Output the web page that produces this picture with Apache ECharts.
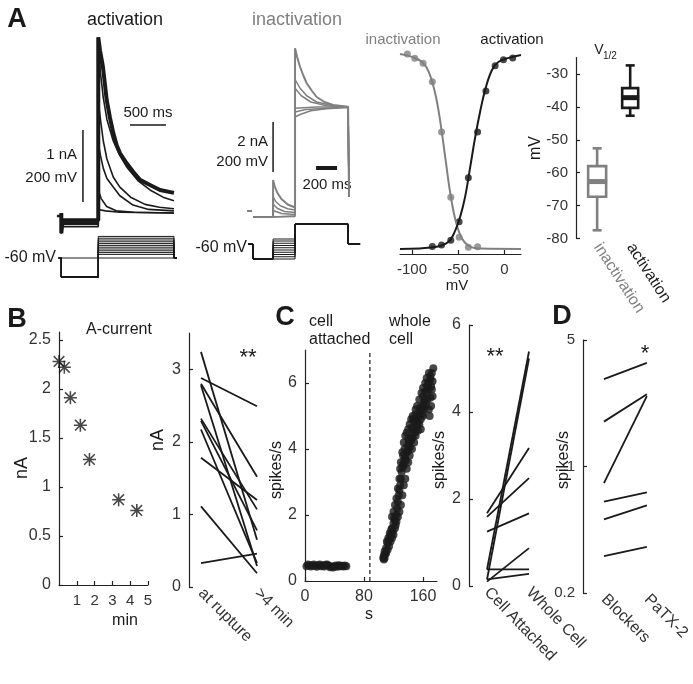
<!DOCTYPE html>
<html>
<head>
<meta charset="utf-8">
<script src="https://cdn.jsdelivr.net/npm/echarts@6/dist/echarts.min.js"></script>
<style>
html, body { margin: 0; padding: 0; background: #fff; }
#chart { width: 693px; height: 684px; }
</style>
</head>
<body>
<div id="chart"></div>
<script>
const FONT = '"Liberation Sans", Arial, sans-serif';
const BLACK = '#1a1a1a';
const GRAY = '#808080';
const LABEL = '#333';
const AX = '#222';

// ---- A, activation currents (time ms from step, current nA)
const actPreLevels = [-0.1, -0.13, -0.16, -0.19, -0.12, -0.15];
const actShapes = [
    [[0, 2.44], [24, 2.26], [65, 2.03], [117, 1.57], [163, 1.32], [209, 1.11], [256, 0.94], [302, 0.83], [395, 0.69], [487, 0.57], [580, 0.46], [719, 0.39], [858, 0.32], [1052, 0.28]],
    [[0, 2.4], [30, 1.95], [70, 1.6], [120, 1.3], [208, 1.0], [300, 0.8], [394, 0.64], [550, 0.45], [719, 0.32], [900, 0.22], [1052, 0.17]],
    [[0, 1.55], [30, 1.3], [70, 1.0], [120, 0.75], [208, 0.5], [300, 0.36], [450, 0.22], [650, 0.12], [850, 0.08], [1052, 0.06]],
    [[0, 0.97], [30, 0.8], [70, 0.62], [120, 0.48], [208, 0.36], [300, 0.24], [483, 0.11], [700, 0.05], [1052, 0.03]],
    [[0, 0.32], [40, 0.2], [117, 0.09], [250, 0.03], [500, 0.01], [1052, 0]],
    [[0, 0.05], [100, 0.03], [300, 0.01], [1052, 0]]
];
const actScaleV = [[-213, 0.153], [-213, 1.153]];
const actScaleH = [[441, 1.222], [941, 1.222]];
const actZeroDash = [[-575, -0.04], [-525, -0.04]];
// activation protocol (mV)
const actHold = -60;
const actPre = -113;
const actSteps = [0, -5, -10, -15, -20, -25, -30, -35, -40, -45, -50];

// ---- A, inactivation currents
const inactStep1 = [
    [[-209, 1.48], [-195, 1.25], [-170, 0.98], [-130, 0.72], [-70, 0.5], [0, 0.38]],
    [[-209, 0.82], [-185, 0.62], [-140, 0.45], [-70, 0.33], [0, 0.28]],
    [[-209, 0.52], [-170, 0.35], [-100, 0.22], [0, 0.18]],
    [[-209, 0.26], [-130, 0.14], [0, 0.1]],
    [[-209, 0.08], [0, 0.05]],
    [[-209, 0.02], [0, 0.02]]
];
const inactStep2 = [
    [[0, 6.75], [20, 6.4], [48, 6.0], [80, 5.65], [111, 5.35], [160, 5.05], [206, 4.8], [280, 4.6], [362, 4.48], [505, 4.41]],
    [[0, 5.5], [48, 5.15], [111, 4.85], [206, 4.6], [362, 4.45], [505, 4.4]],
    [[0, 5.15], [60, 4.85], [150, 4.6], [300, 4.45], [505, 4.4]],
    [[0, 4.35], [200, 4.4], [505, 4.4]],
    [[0, 4.0], [48, 4.1], [150, 4.25], [300, 4.33], [505, 4.38]],
    [[0, 4.2], [100, 4.3], [505, 4.4]]
];
const inactTail = 0.8;
const inactScaleV = [[-209, 1.8], [-209, 3.8]];
const inactScaleH = [[200, 1.96], [400, 1.96]];
const inactZeroDash = [[-457, 0.24], [-409, 0.24]];
const inactHold = -60;
const inactTest = 20;
const inactPrepulses = [-120, -111, -102, -93, -84, -75, -66, -57, -48, -40];

// ---- A, Boltzmann (mV, normalised)
const inactV = [-105, -97, -88, -78, -68, -58, -49, -39, -29];
const inactG = [1.0, 0.978, 0.952, 0.858, 0.6, 0.265, 0.06, 0.009, 0.012];
const actV = [-78, -68, -58, -49, -39, -29, -20, -10, -1, 9];
const actG = [0.013, 0.02, 0.045, 0.14, 0.366, 0.6, 0.81, 0.94, 0.97, 0.98];
const inactFit = [[-113, 1.0], [-100, 0.985], [-89.5, 0.96], [-82, 0.91], [-75, 0.8], [-69.6, 0.66], [-64, 0.47], [-58.7, 0.29], [-53, 0.15], [-46, 0.055], [-37, 0.012], [-25, 0.002], [18, 0]];
const actFit = [[-113, 0], [-75, 0.01], [-60.5, 0.037], [-53, 0.097], [-47.8, 0.166], [-42.4, 0.27], [-37, 0.42], [-31.5, 0.576], [-26, 0.71], [-20.6, 0.82], [-13.4, 0.918], [-6.2, 0.96], [4.7, 0.98], [18, 0.995]];

// ---- A, V1/2 box plot
const boxNames = ['inactivation', 'activation'];
const boxMin = [-77.5, -42.7];
const boxQ1 = [-67.3, -40.3];
const boxMed = [-62.7, -37.2];
const boxQ3 = [-58, -34.3];
const boxMax = [-52.6, -27.4];

// ---- B
const bMin = [0, 0.3, 0.64, 1.2, 1.71, 3.35, 4.37];
const bCurrent = [2.28, 2.22, 1.91, 1.63, 1.28, 0.87, 0.76];
const bPairNames = ['at rupture', '>4 min'];
const bLeft = [3.24, 2.88, 2.80, 2.78, 2.32, 2.29, 2.17, 1.78, 1.11, 0.33];
const bRight = [0.65, 2.49, 1.52, 0.29, 1.07, 0.78, 0.33, 1.2, 0.19, 0.46];

// ---- C
const caTime = [2, 4, 6, 8, 10, 12, 14, 16, 18, 20, 22, 24, 26, 28, 30, 32, 34, 36, 38, 40, 42, 44, 46, 48, 50, 52, 54, 56];
const caRate = [0.45, 0.5, 0.48, 0.44, 0.47, 0.5, 0.46, 0.43, 0.48, 0.5, 0.45, 0.47, 0.44, 0.49, 0.5, 0.46, 0.42, 0.45, 0.41, 0.44, 0.47, 0.43, 0.48, 0.45, 0.46, 0.44, 0.47, 0.45];
const wcTime = [106, 107, 108, 109, 110, 111, 112, 113, 114, 115, 116, 117, 118, 119, 120, 121, 122, 123, 124, 125, 126, 127, 128, 129, 130, 131, 132, 133, 134, 135, 136, 137, 138, 139, 140, 141, 142, 143, 144, 145, 146, 147, 148, 149, 150, 151, 152, 153, 154, 155, 156, 157, 158, 159, 160, 161, 162, 163, 164, 165, 166, 167, 168, 169, 170, 171, 172, 173, 174, 173, 170];
const wcRate = [0.7, 0.78, 0.9, 0.82, 1.0, 1.2, 1.15, 1.3, 1.25, 1.45, 1.4, 1.55, 1.6, 1.5, 1.75, 1.9, 1.85, 1.7, 2.0, 2.2, 2.4, 2.6, 2.75, 2.9, 3.1, 3.3, 3.45, 3.55, 3.5, 3.7, 3.8, 3.65, 3.9, 4.1, 3.95, 4.2, 4.05, 4.3, 4.25, 4.4, 4.35, 4.6, 4.85, 4.5, 4.9, 4.7, 4.95, 4.8, 5.0, 4.75, 5.1, 4.9, 5.2, 5.05, 5.3, 5.4, 5.2, 5.5, 5.35, 5.7, 5.5, 6.0, 5.8, 5.0, 6.1, 5.9, 6.3, 6.05, 6.45, 5.6, 5.55];
// second sweep of whole-cell points, spread either side of the first
const wcTimeB = [118, 120, 122, 124, 126, 128, 129, 130, 132, 134, 136, 138, 140, 142, 144, 146, 150, 152, 155, 158, 160, 163, 165, 168, 140, 135, 133, 145, 147, 150, 156, 160, 163, 166, 170, 172, 171, 168, 160, 157, 153, 150, 148, 145, 142, 140, 138, 136, 134, 132, 130, 128, 126, 124, 122, 120, 118, 116, 114, 112, 110, 108, 107];
const wcRateB = [1.95, 2.1, 2.3, 2.5, 2.8, 3.1, 3.4, 3.6, 3.9, 4.2, 4.4, 4.5, 4.6, 4.75, 4.9, 5.0, 5.2, 5.3, 5.5, 5.7, 5.85, 6.0, 6.15, 6.3, 4.3, 4.0, 3.8, 4.65, 4.9, 5.05, 5.25, 5.6, 5.75, 5.9, 6.2, 5.8, 5.3, 5.2, 5.0, 4.6, 4.55, 4.4, 4.2, 4.0, 3.8, 3.6, 3.4, 3.1, 2.9, 2.6, 2.3, 2.1, 1.95, 1.8, 1.6, 1.4, 1.3, 1.2, 1.05, 0.95, 0.85, 0.7, 0.65];
const breakIn = 88;
const cPairNames = ['Cell Attached', 'Whole Cell'];
const cLeft = [0.38, 0.15, 1.67, 1.59, 1.25, 0.38, 0.1, 0.15];
const cRight = [5.39, 5.23, 3.17, 2.48, 1.67, 0.38, 0.87, 0.28];

// ---- D
const dPairNames = ['Blockers', 'PaTX-2'];
const dLeft = [3.04, 1.77, 0.81, 0.64, 0.51, 0.32];
const dRight = [3.74, 2.51, 2.45, 0.72, 0.61, 0.36];

const ASTERISK = 'path://M8.8,0H11.2V20H8.8Z M0,8.8H20V11.2H0Z M2.7,1.0L19.0,17.3L17.3,19.0L1.0,2.7Z M17.3,1.0L19.0,2.7L2.7,19.0L1.0,17.3Z';

const grids = [], xAxes = [], yAxes = [], series = [];

function addGrid(left, top, width, height, xa, ya) {
    const gi = grids.length;
    grids.push({left: left, top: top, width: width, height: height, containLabel: false});
    xa.gridIndex = gi; ya.gridIndex = gi;
    xAxes.push(xa); yAxes.push(ya);
    return gi;
}
function hid(min, max) {
    return {type: 'value', min: min, max: max, show: false, splitLine: {show: false}};
}
function vis(min, max, ticks, o) {
    o = o || {};
    return {
        type: o.log ? 'log' : 'value', logBase: 10, min: min, max: max,
        axisLine: {show: o.line !== false, onZero: false, lineStyle: {color: AX, width: 1.2}},
        axisTick: {show: o.tick !== false, inside: true, length: 4, customValues: ticks, lineStyle: {color: AX, width: 1.2}},
        axisLabel: {
            show: true, customValues: o.labels || ticks, formatter: o.fmt, rotate: o.rotate || 0,
            color: LABEL, fontFamily: FONT, fontSize: o.fs || 15, margin: o.margin == null ? 8 : o.margin,
            rich: o.rich
        },
        splitLine: {show: false}
    };
}
function line(gi, data, color, width, extra) {
    return Object.assign({
        type: 'line', xAxisIndex: gi, yAxisIndex: gi, data: data, symbol: 'none', silent: true,
        clip: false, animation: false, lineStyle: {color: color, width: width}
    }, extra || {});
}
function zip(a, b) { return a.map((v, i) => [v, b[i]]); }

const gActT = addGrid(40, 30, 140, 200, hid(-810, 1136), hid(-0.236, 2.542));
const gActP = addGrid(40, 230, 140, 55, hid(-810, 1136), hid(-135, 17.8));
const gInT = addGrid(240, 40, 125, 190, hid(-524, 666), hid(-0.52, 7.08));
const gInP = addGrid(240, 215, 125, 50, hid(-524, 666), hid(-144, 56));
const gBol = addGrid(400, 48, 121, 206,
    vis(-113, 18, [-100, -50, 0], {fs: 15}),
    hid(-0.0256, 1.0308));
const gBox = addGrid(576, 57.5, 74, 181,
    vis(0.36, 2.6, [1, 2], {line: false, tick: false, rotate: -57, fs: 16, margin: 6,
        fmt: v => (Math.round(v) === 1 ? '{g|' : '{k|') + boxNames[Math.round(v) - 1] + '}',
        rich: {g: {color: GRAY, fontFamily: FONT, fontSize: 16}, k: {color: BLACK, fontFamily: FONT, fontSize: 16}}}),
    vis(-80, -25, [-80, -70, -60, -50, -40, -30], {}));
const gBL = addGrid(59, 332, 89, 253,
    vis(0, 5, [1, 2, 3, 4, 5], {}),
    vis(0, 2.58, [0, 0.5, 1, 1.5, 2, 2.5], {fs: 16}));
const gBR = addGrid(189, 333, 81, 254,
    vis(0.786, 2.232, [1, 2], {line: false, tick: false, rotate: -45, fs: 16, margin: 4, fmt: v => bPairNames[Math.round(v) - 1]}),
    vis(0, 3.5, [0, 1, 2, 3], {fs: 16}));
const gCL = addGrid(305, 350, 132, 231,
    vis(0, 179, [0, 80, 160], {fs: 16}),
    vis(0, 7, [0, 2, 4, 6], {fs: 16}));
const gCR = addGrid(469, 325, 76, 261,
    vis(0.571, 2.381, [1, 2], {line: false, tick: false, rotate: -46, fs: 16, margin: 4, fmt: v => cPairNames[Math.round(v) - 1]}),
    vis(0, 6, [0, 2, 4, 6], {fs: 16}));
const gD = addGrid(583, 340, 82, 253,
    vis(0.512, 2.419, [1, 2], {line: false, tick: false, rotate: -45, fs: 16, margin: 4, fmt: v => dPairNames[Math.round(v) - 1]}),
    vis(0.2, 5, [0.2, 1, 5], {log: true, fs: 15}));

// activation traces
actShapes.forEach((shape, i) => {
    const lvl = actPreLevels[i];
    const pre = [[-514, 0], [-514, -0.28], [-495, lvl], [0, lvl]];
    series.push(line(gActT, pre.concat(shape), BLACK, i === 0 ? 4 : 1.6));
});
series.push(line(gActT, actScaleV, BLACK, 1.5));
series.push(line(gActT, actScaleH, BLACK, 1.5));
series.push(line(gActT, actZeroDash, BLACK, 2.5));
// activation protocol
series.push(line(gActP, [[-550, actHold], [1090, actHold]], BLACK, 1));
actSteps.forEach(v => {
    series.push(line(gActP, [[-550, actHold], [-514, actHold], [-514, actPre], [0, actPre], [0, v], [1052, v], [1052, actHold], [1090, actHold]], BLACK, 1));
});

// inactivation traces
inactStep1.forEach((s1, i) => {
    const s2 = inactStep2[i];
    const d = [[-400, 0], [-209, 0]].concat(s1, s2, [[514, s2[s2.length - 1][1]], [514, inactTail]]);
    series.push(line(gInT, d, GRAY, i === 0 ? 2 : 1.5));
});
series.push(line(gInT, inactScaleV, BLACK, 1.5));
series.push(line(gInT, inactScaleH, BLACK, 4));
series.push(line(gInT, inactZeroDash, GRAY, 2));
inactPrepulses.forEach(v => {
    series.push(line(gInP, [[-447, inactHold], [-400, inactHold], [-400, inactPrepulses[0]], [-209, inactPrepulses[0]], [-209, v], [0, v], [0, inactTest], [505, inactTest], [505, inactHold], [619, inactHold]], BLACK, 1));
});

// Boltzmann
series.push(line(gBol, inactFit, GRAY, 2, {smooth: 0.4}));
series.push(line(gBol, actFit, BLACK, 2, {smooth: 0.4}));
series.push({type: 'scatter', xAxisIndex: gBol, yAxisIndex: gBol, data: zip(inactV, inactG), symbolSize: 7, itemStyle: {color: GRAY}, silent: true, animation: false});
series.push({type: 'scatter', xAxisIndex: gBol, yAxisIndex: gBol, data: zip(actV, actG), symbolSize: 7, itemStyle: {color: BLACK}, silent: true, animation: false});

// box plot
series.push({
    type: 'custom', xAxisIndex: gBox, yAxisIndex: gBox, silent: true, animation: false,
    data: boxNames.map((n, i) => [i + 1, boxMin[i], boxQ1[i], boxMed[i], boxQ3[i], boxMax[i]]),
    renderItem: function (params, api) {
        const x = api.value(0);
        const c = v => api.coord([x, v]);
        const lo = c(api.value(1)), q1 = c(api.value(2)), md = c(api.value(3)), q3 = c(api.value(4)), hi = c(api.value(5));
        const color = params.dataIndex === 0 ? GRAY : BLACK;
        const hw = params.dataIndex === 0 ? 9 : 8;
        const st = {stroke: color, lineWidth: 2.6, fill: null};
        return {type: 'group', children: [
            {type: 'line', shape: {x1: lo[0], y1: lo[1], x2: q1[0], y2: q1[1]}, style: st},
            {type: 'line', shape: {x1: q3[0], y1: q3[1], x2: hi[0], y2: hi[1]}, style: st},
            {type: 'line', shape: {x1: lo[0] - 4.5, y1: lo[1], x2: lo[0] + 4.5, y2: lo[1]}, style: st},
            {type: 'line', shape: {x1: hi[0] - 4.5, y1: hi[1], x2: hi[0] + 4.5, y2: hi[1]}, style: st},
            {type: 'rect', shape: {x: q3[0] - hw, y: q3[1], width: 2 * hw, height: q1[1] - q3[1]}, style: st},
            {type: 'line', shape: {x1: md[0] - hw - 1, y1: md[1], x2: md[0] + hw + 1, y2: md[1]}, style: {stroke: color, lineWidth: 5}}
        ]};
    }
});

// B
series.push({type: 'scatter', xAxisIndex: gBL, yAxisIndex: gBL, data: zip(bMin, bCurrent), symbol: ASTERISK, symbolSize: 13, itemStyle: {color: BLACK}, silent: true, animation: false, clip: false});
bLeft.forEach((v, i) => series.push(line(gBR, [[1, v], [2, bRight[i]]], BLACK, 1.8)));

// C
series.push({type: 'scatter', xAxisIndex: gCL, yAxisIndex: gCL, data: zip(caTime, caRate), symbolSize: 8, itemStyle: {color: BLACK}, silent: true, animation: false});
series.push({type: 'scatter', xAxisIndex: gCL, yAxisIndex: gCL, data: zip(wcTime, wcRate), symbolSize: 8, itemStyle: {color: BLACK}, silent: true, animation: false, clip: false});
series.push({type: 'scatter', xAxisIndex: gCL, yAxisIndex: gCL, data: zip(wcTimeB, wcRateB), symbolSize: 8, itemStyle: {color: BLACK}, silent: true, animation: false, clip: false});
series.push(line(gCL, [[breakIn, 0], [breakIn, 7]], BLACK, 1.2, {lineStyle: {color: BLACK, width: 1.2, type: [4, 3]}}));
cLeft.forEach((v, i) => series.push(line(gCR, [[1, v], [2, cRight[i]]], BLACK, 1.8)));

// D
dLeft.forEach((v, i) => series.push(line(gD, [[1, v], [2, dRight[i]]], BLACK, 1.8)));

function txt(text, x, y, o) {
    o = o || {};
    return {
        type: 'text', x: x, y: y, rotation: o.rot || 0, silent: true,
        style: {
            text: text, fill: o.color || BLACK, fontFamily: FONT, fontSize: o.fs || 16,
            fontWeight: o.bold ? 'bold' : 'normal', align: o.align || 'center', verticalAlign: 'middle'
        }
    };
}
const R = Math.PI / 2;
const graphic = [
    txt('A', 17, 20, {fs: 27, bold: true}),
    txt('B', 17, 320, {fs: 27, bold: true}),
    txt('C', 285, 318, {fs: 27, bold: true}),
    txt('D', 562, 317, {fs: 27, bold: true}),
    txt('activation', 125, 20, {fs: 18}),
    txt('inactivation', 297, 20, {fs: 18, color: GRAY}),
    txt('1 nA', 77, 155, {align: 'right', fs: 15}),
    txt('200 mV', 77, 178, {align: 'right', fs: 15}),
    txt('500 ms', 148, 113, {fs: 15}),
    txt('-60 mV', 56, 258, {align: 'right', fs: 16}),
    txt('2 nA', 268, 142, {align: 'right', fs: 15}),
    txt('200 mV', 268, 162, {align: 'right', fs: 15}),
    txt('200 ms', 327, 185, {fs: 15}),
    txt('-60 mV', 247, 248, {align: 'right', fs: 16}),
    txt('inactivation', 403, 40, {fs: 15, color: GRAY}),
    txt('activation', 512, 40, {fs: 15}),
    txt('mV', 457, 286, {fs: 15}),
    txt('mV', 536, 148, {fs: 16, rot: R}),
    txt('V', 599, 50, {fs: 14}),
    txt('1/2', 603, 56, {fs: 10, align: 'left'}),
    txt('A-current', 119, 330, {fs: 16}),
    txt('nA', 22, 468, {fs: 18, rot: R}),
    txt('min', 125, 621, {fs: 16}),
    txt('nA', 158, 440, {fs: 18, rot: R}),
    txt('**', 248, 358, {fs: 22}),
    txt('cell', 309, 322, {fs: 16, align: 'left'}),
    txt('attached', 309, 340, {fs: 16, align: 'left'}),
    txt('whole', 389, 322, {fs: 16, align: 'left'}),
    txt('cell', 389, 340, {fs: 16, align: 'left'}),
    txt('spikes/s', 277, 470, {fs: 16, rot: R}),
    txt('s', 369, 615, {fs: 16}),
    txt('spikes/s', 440, 460, {fs: 16, rot: R}),
    txt('**', 495, 357, {fs: 22}),
    txt('spikes/s', 564, 460, {fs: 16, rot: R}),
    txt('*', 645, 354, {fs: 22})
];

const chart = echarts.init(document.getElementById('chart'), null, {renderer: 'canvas'});
chart.setOption({
    animation: false,
    backgroundColor: '#fff',
    grid: grids,
    xAxis: xAxes,
    yAxis: yAxes,
    series: series,
    graphic: graphic
});
</script>
</body>
</html>
